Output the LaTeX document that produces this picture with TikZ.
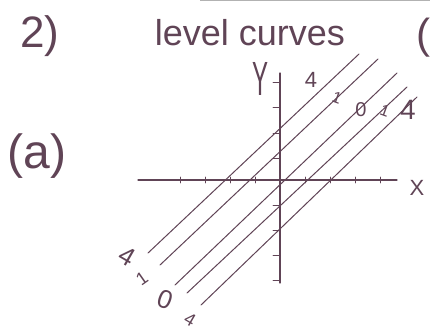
\documentclass[tikz,border=0pt]{standalone}
\usepackage{fontspec}
\setmainfont{Liberation Sans}
\begin{document}
\begin{tikzpicture}[x=1pt,y=-1pt,
  ink/.style={draw=inkc,line width=1.2pt,line cap=round},
  lvl/.style={draw=inkc,line width=1pt,line cap=round},
  hand/.style={text=inkc,inner sep=0pt,font=\fontsize{#1}{#1}\selectfont},
  hand/.default=20]
\definecolor{inkc}{RGB}{96,68,86}
\useasboundingbox[fill=white] (0,0) rectangle (430,333);
\draw[gray!60,line width=1pt] (200,0.5) -- (430,0.5);
% headings
\node[hand=44] (num) at (40,36) {2)};
\node[hand=36] (title) at (250,33) {level curves};
\node[hand=42,anchor=east] (paren) at (431,38) {(};
\node[hand=48] (part) at (37,156) {(a)};
% axes
\coordinate (xl) at (138,180); \coordinate (xr) at (397,180);
\coordinate (yt) at (280,73); \coordinate (yb) at (280,283);
\draw[ink] (xl) -- (xr);
\draw[ink] (yt) -- (yb);
\node[hand=22] (xlab) at (417,188) {X};
\node[hand=48,xscale=0.5] (ylab) at (260,79) {Y};
\foreach \t in {180,205,230,255,305,330,355,380}
  \draw[ink,line width=0.8pt] (\t,177) -- (\t,183);
\foreach \t in {82,107,133,158,205,230,255,280}
  \draw[ink,line width=0.8pt] (273,\t) -- (280,\t);
% level lines y = x + c
\coordinate (a1) at (359,54);  \coordinate (b1) at (148,253);
\coordinate (a2) at (378,59);  \coordinate (b2) at (160,265);
\coordinate (a3) at (397,73);  \coordinate (b3) at (175,285);
\coordinate (a4) at (407,87);  \coordinate (b4) at (187,293);
\coordinate (a5) at (417,97);  \coordinate (b5) at (201,305);
\foreach \i in {1,...,5} \draw[lvl] (a\i) -- (b\i);
% labels top
\node[hand=22] (t1) at (311,80) {4};
\node[hand=16,rotate=-20] (t2) at (337,98) {1};
\node[hand=20] (t3) at (361,110) {0};
\node[hand=16,rotate=-20] (t4) at (385,111) {1};
\node[hand=28] (t5) at (408,110) {4};
% labels bottom
\node[hand=26,rotate=-30] (u1) at (127,256) {4};
\node[hand=18,rotate=35] (u2) at (142,279) {1};
\node[hand=26,rotate=-20] (u3) at (165,300) {0};
\node[hand=18,rotate=-30] (u4) at (190,320) {4};
\end{tikzpicture}
\end{document}
